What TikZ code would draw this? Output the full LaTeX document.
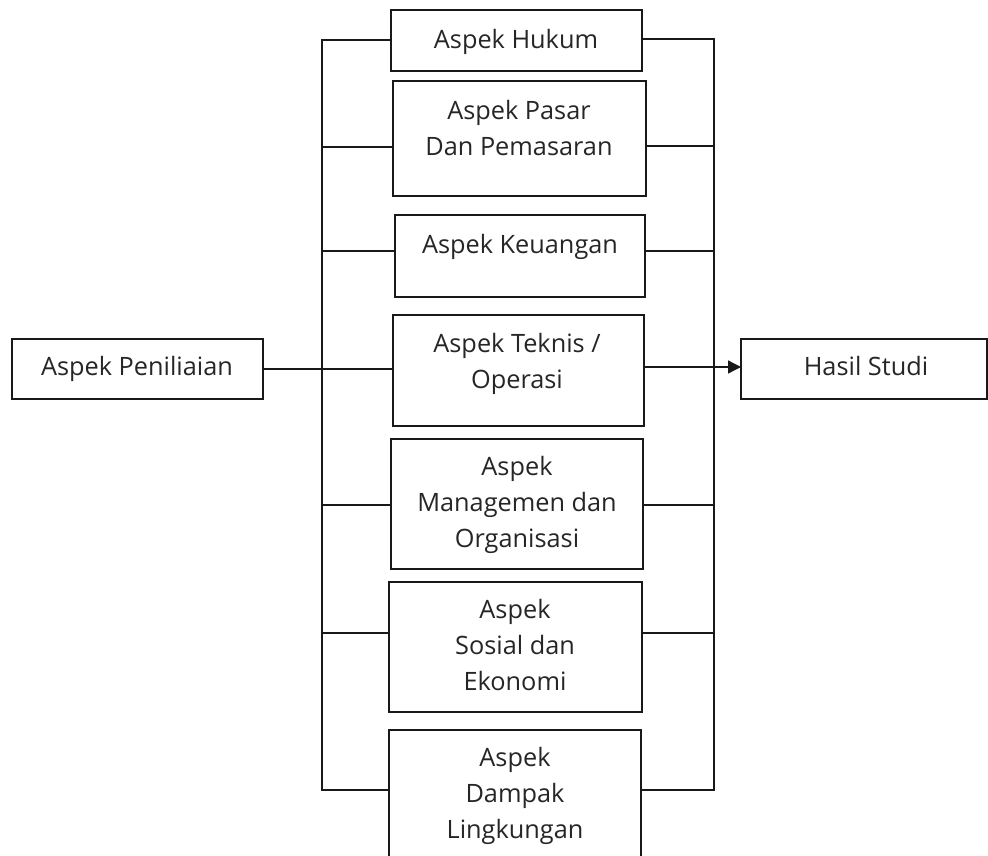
\documentclass[tikz,border=0pt]{standalone}
\usepackage{fontspec}
\setmainfont{Open Sans}
\usetikzlibrary{arrows.meta}
\begin{document}
\begin{tikzpicture}[x=1pt,y=1pt,
  box/.style={draw=black!90, line width=1.3pt, inner sep=0pt, outer sep=0pt, anchor=north west, rectangle},
  lbl/.style={anchor=base, align=center, inner sep=0pt, font=\fontsize{25.3}{36}\selectfont, text=black!85},
  conn/.style={draw=black!90, line width=1.3pt}]
\clip (0,0) rectangle (988,-855);
\fill[white] (0,0) rectangle (988,-855);
% boxes
\node[box, minimum width=251pt, minimum height=61pt] (b1) at (391,-10) {};
\node[box, minimum width=253pt, minimum height=115pt] (b2) at (393,-81) {};
\node[box, minimum width=250pt, minimum height=82pt] (b3) at (395,-215) {};
\node[box, minimum width=251pt, minimum height=111pt] (b4) at (393,-315) {};
\node[box, minimum width=252pt, minimum height=130pt] (b5) at (391,-439) {};
\node[box, minimum width=253pt, minimum height=130pt] (b6) at (389,-582) {};
\node[box, minimum width=252pt, minimum height=150pt] (b7) at (389,-730) {};
\node[box, minimum width=251pt, minimum height=60pt] (pen) at (12,-339) {};
\node[box, minimum width=246pt, minimum height=60pt] (hasil) at (741,-339) {};
% labels (anchor base = baseline of last line)
\node[lbl] (t1) at (516,-48) {Aspek Hukum};
\node[lbl] (t2) at (519,-155) {Aspek Pasar\\Dan Pemasaran};
\node[lbl] (t3) at (520,-253) {Aspek Keuangan};
\node[lbl] (t4) at (517,-388) {Aspek Teknis /\\Operasi};
\node[lbl] (t5) at (517,-547) {Aspek\\Managemen dan\\Organisasi};
\node[lbl] (t6) at (515,-690) {Aspek\\Sosial dan\\Ekonomi};
\node[lbl] (t7) at (515,-838) {Aspek\\Dampak\\Lingkungan};
\node[lbl] (tp) at (137,-375) {Aspek Peniliaian};
\node[lbl] (th) at (866,-375) {Hasil Studi};
% bus coordinates
\coordinate (L1) at (322,-40);
\coordinate (L2) at (322,-147);
\coordinate (L3) at (322,-251);
\coordinate (L5) at (322,-505);
\coordinate (L6) at (322,-633);
\coordinate (L7) at (322,-790);
\coordinate (R1) at (714,-39);
\coordinate (R2) at (714,-146);
\coordinate (R3) at (714,-251);
\coordinate (R5) at (714,-505);
\coordinate (R6) at (714,-633);
\coordinate (R7) at (714,-790);
\coordinate (P) at (263,-369);
\coordinate (Q) at (644,-367);
% buses
\draw[conn, line cap=rect] (L1) -- (L7);
\draw[conn, line cap=rect] (R1) -- (R7);
% branches
\foreach \i in {1,2,3,5,6,7} {
  \draw[conn] (L\i) -- (L\i -| b\i.west);
  \draw[conn] (R\i) -- (R\i -| b\i.east);
}
% main line
\draw[conn] (P -| pen.east) -- (P -| b4.west);
\draw[conn, -{Triangle[length=13pt,width=13pt]}] (Q -| b4.east) -- (Q -| hasil.west);
\end{tikzpicture}
\end{document}
